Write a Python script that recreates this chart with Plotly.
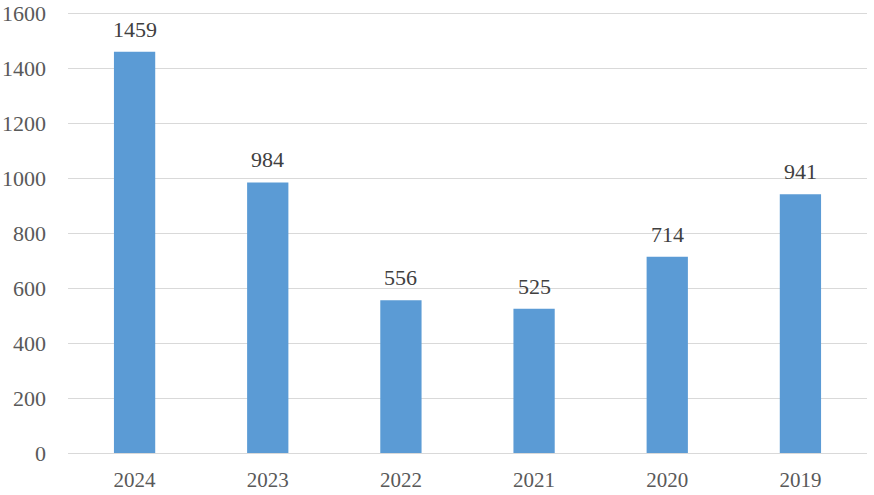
import plotly.graph_objects as go

years = ["2024", "2023", "2022", "2021", "2020", "2019"]
values = [1459, 984, 556, 525, 714, 941]
y_ticks = [0, 200, 400, 600, 800, 1000, 1200, 1400, 1600]

font_family = "Liberation Serif, Times New Roman, serif"

fig = go.Figure()
fig.add_trace(go.Bar(x=years, y=values, marker=dict(color="#5B9BD5", line=dict(width=0)),
                     hoverinfo="x+y"))

for i, v in enumerate(values):
    fig.add_annotation(x=i, y=v, text=str(v), showarrow=False, yanchor="bottom",
                       yshift=8, font=dict(family=font_family, size=22, color="#404040"))

fig.update_layout(
    width=874, height=495,
    margin=dict(l=68, r=7, t=12, b=42),
    paper_bgcolor="white", plot_bgcolor="white",
    bargap=0.69,
    showlegend=False,
    font=dict(family=font_family, size=21, color="#595959"),
)
fig.update_xaxes(type="category", range=[-0.5, 5.5], showgrid=False, showline=False, ticks="",
                 tickfont=dict(size=21, color="#595959"), ticklabelstandoff=12,
                 automargin=False)
fig.update_yaxes(range=[0, 1604], tickvals=y_ticks, showgrid=True, gridcolor="#D9D9D9",
                 gridwidth=1, zeroline=True, zerolinecolor="#D9D9D9", zerolinewidth=1,
                 showline=False, ticks="", tickfont=dict(size=22, color="#595959"),
                 ticklabelstandoff=21, automargin=False)

fig.write_html("out.html", config={"displayModeBar": False},
               post_script="document.body.style.margin='0';")
